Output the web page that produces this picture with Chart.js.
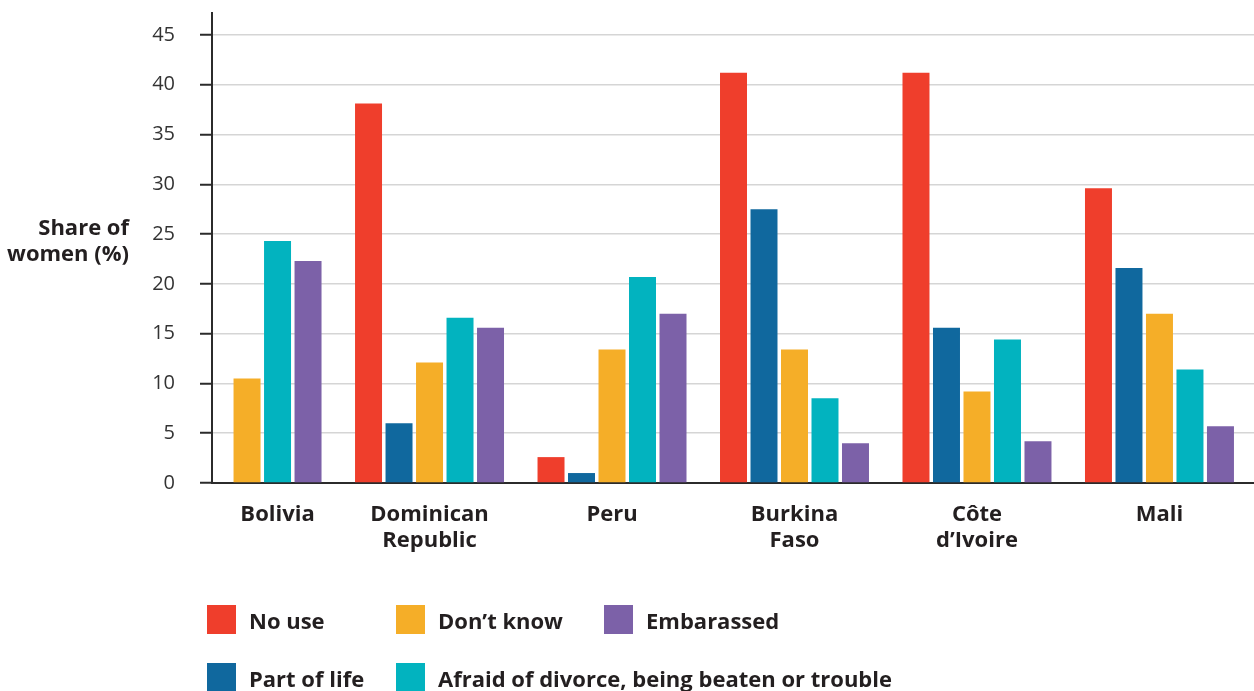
<!DOCTYPE html>
<html>
<head>
<meta charset="utf-8">
<script src="https://cdn.jsdelivr.net/npm/chart.js@4/dist/chart.umd.min.js"></script>
<style>
  body { margin: 0; background: #fff; }
  #wrap { position: relative; width: 1254px; height: 691px; overflow: hidden; }
  #legend {
    position: absolute; left: 207px; top: 605px;
    display: grid; grid-auto-flow: column;
    grid-template-rows: 29px 29px; row-gap: 29px;
    grid-template-columns: 189px 208px 200px;
    font: bold 22px 'Open Sans', sans-serif; color: #231f20;
  }
  #legend .item { display: flex; align-items: center; white-space: nowrap; }
  #legend .sw { width: 29px; height: 29px; margin-right: 13px; flex: none; }
</style>
</head>
<body>
<div id="wrap">
  <canvas id="chart"></canvas>
  <div id="legend"></div>
</div>
<script>
const categories = [['Bolivia'], ['Dominican', 'Republic'], ['Peru'], ['Burkina', 'Faso'], ['Côte', 'd’Ivoire'], ['Mali']];
const noUse      = [null, 38.1, 2.6, 41.2, 41.2, 29.6];
const partOfLife = [null, 6.0, 1.0, 27.5, 15.6, 21.6];
const dontKnow   = [10.5, 12.1, 13.4, 13.4, 9.2, 17.0];
const afraid     = [24.3, 16.6, 20.7, 8.5, 14.4, 11.4];
const embarassed = [22.3, 15.6, 17.0, 4.0, 4.2, 5.7];
const yTicks = [0, 5, 10, 15, 20, 25, 30, 35, 40, 45];
const yTitleLines = ['Share of', 'women (%)'];

const ink = '#231f20';
const catPct = 0.8356;
Chart.defaults.font.family = "'Open Sans', sans-serif";
Chart.defaults.color = ink;

// one point per category, placed at its index on the x axis
const toPoints = vals => vals.map((v, i) => ({ x: i, y: v }));

const series = [
  { label: 'No use', data: noUse, color: '#ef3e2c' },
  { label: 'Part of life', data: partOfLife, color: '#10689e' },
  { label: 'Don’t know', data: dontKnow, color: '#f5ae28' },
  { label: 'Afraid of divorce, being beaten or trouble', data: afraid, color: '#02b3bf' },
  { label: 'Embarassed', data: embarassed, color: '#7c61a8' }
];

// horizontal two-line title left of the value axis
const yTitle = {
  id: 'yTitle',
  afterDraw(chart) {
    const { ctx, chartArea } = chart;
    const mid = chart.scales.y.getPixelForValue(24.2);
    ctx.save();
    ctx.font = "bold 22px 'Open Sans', sans-serif";
    ctx.fillStyle = ink;
    ctx.textAlign = 'right';
    ctx.textBaseline = 'middle';
    yTitleLines.forEach((t, i) => ctx.fillText(t, chartArea.left - 83, mid + (i - 0.5) * 26));
    ctx.restore();
  }
};

// centre each country label under the bars it actually has
// (runs after bar widths are measured, so only the labels move)
const centreLabels = {
  id: 'centreLabels',
  afterDatasetsUpdate(chart) {
    const n = series.length;
    chart.scales.x.ticks.forEach(t => {
      const i = Math.round(t.value);
      const present = series.map((s, k) => (s.data[i] == null ? null : k)).filter(k => k !== null);
      const mean = present.reduce((a, b) => a + b, 0) / present.length;
      t.value = i + (mean - (n - 1) / 2) * catPct / n;
    });
  }
};

const chart = new Chart(document.getElementById('chart'), {
  type: 'bar',
  data: {
    datasets: series.map(s => ({
      label: s.label,
      data: toPoints(s.data),
      backgroundColor: s.color,
      borderWidth: 0,
      categoryPercentage: catPct,
      barPercentage: 0.885
    }))
  },
  options: {
    responsive: true,
    maintainAspectRatio: false,
    animation: false,
    layout: { padding: { top: 13, left: 0, right: 0, bottom: 0 } },
    plugins: { legend: { display: false }, tooltip: { enabled: false } },
    scales: {
      x: {
        type: 'linear',
        offset: false,
        min: -0.192,
        max: 5.518,
        afterBuildTicks: scale => {
          scale.ticks = scale.ticks.filter(t => Number.isInteger(t.value) && t.value >= 0 && t.value < categories.length);
        },
        afterFit: scale => {
          scale.height = 208;
          scale.paddingLeft = 0;
          scale.paddingRight = 0;
        },
        grid: { display: true, color: 'transparent', drawTicks: false },
        border: { display: true, color: '#2b2b2b', width: 2 },
        ticks: {
          stepSize: 1,
          includeBounds: false,
          autoSkip: false,
          maxRotation: 0,
          padding: 19,
          font: { size: 22, weight: 'bold', lineHeight: 1.18 },
          color: ink,
          callback: v => categories[Math.round(v)]
        }
      },
      y: {
        min: 0,
        max: 47.2,
        afterBuildTicks: scale => {
          scale.ticks = yTicks.map(v => ({ value: v }));
        },
        afterFit: scale => {
          scale.width = 212;
          scale.paddingTop = 0;
          scale.paddingBottom = 0;
        },
        grid: { color: '#d5d5d5', lineWidth: 1.5, tickColor: '#2b2b2b', tickWidth: 2, tickLength: 12 },
        border: { display: true, color: '#2b2b2b', width: 2 },
        ticks: {
          stepSize: 5,
          includeBounds: false,
          padding: 25,
          font: { size: 20 },
          color: '#333'
        }
      }
    }
  },
  plugins: [yTitle, centreLabels]
});

// legend laid out in columns: first column top to bottom, then the next
const legend = document.getElementById('legend');
chart.data.datasets.forEach(ds => {
  const item = document.createElement('div');
  item.className = 'item';
  const sw = document.createElement('span');
  sw.className = 'sw';
  sw.style.background = ds.backgroundColor;
  const txt = document.createElement('span');
  txt.textContent = ds.label;
  item.appendChild(sw);
  item.appendChild(txt);
  legend.appendChild(item);
});
</script>
</body>
</html>
